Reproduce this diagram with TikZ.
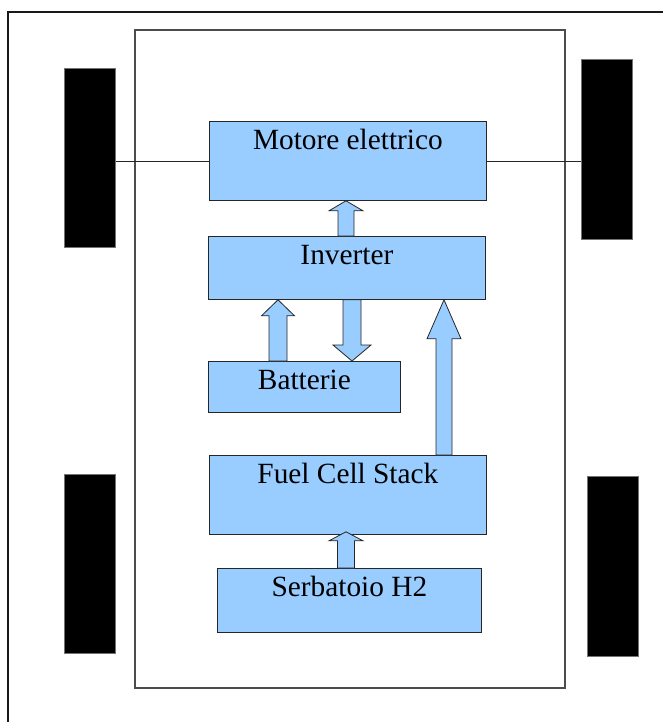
\documentclass[tikz,border=0pt]{standalone}
\usepackage{fontspec}
\setmainfont{Liberation Serif}
\usetikzlibrary{calc}

\definecolor{boxblue}{RGB}{153,204,255}

\tikzset{
  unit/.style={draw=black!85, fill=boxblue, line width=0.6pt, anchor=north west,
    inner xsep=0pt, inner ysep=0pt, text height=21pt, font=\fontsize{22}{26}\selectfont},
  wheel/.style={draw=black!55, fill=black, anchor=north west, inner sep=0pt,
    minimum width=38.25pt, line width=0.4pt},
  fatarr/.style={draw=black!85, fill=boxblue, line width=0.6pt},
}

% tail, tip, shaft half width, head half width, head length
\newcommand{\fatarrow}[5]{%
  \draw[fatarr] (#2) -- ($(#2)+(#4,#5)$) -- ($(#2)+(#3,#5)$) -- ($(#1)+(#3,0)$)
    -- ($(#1)+(-#3,0)$) -- ($(#2)+(-#3,#5)$) -- ($(#2)+(-#4,#5)$) -- cycle;}

\begin{document}
\begin{tikzpicture}[x=0.75pt,y=0.75pt,yscale=-1,xscale=1]
\useasboundingbox (0,0) rectangle (663,722);

%Frame
\draw [line width=1pt, color=black!90]  (8,722) -- (8,12) -- (663,12) ;
%Car body
\draw [line width=0.8pt, color=black!70]  (135,30) rectangle (565,688) ;

%Wheels
\node [wheel, minimum height=134.25pt] (wheelfl) at (64,68) {};
\node [wheel, minimum height=135pt] (wheelfr) at (581,59) {};
\node [wheel, minimum height=134.25pt] (wheelrl) at (64,474) {};
\node [wheel, minimum height=135pt] (wheelrr) at (587,476) {};

%Blocks
\node [unit, minimum width=207.75pt, text depth=38.25pt] (motore) at (209,121) {Motore elettrico};
\node [unit, minimum width=207.75pt, text depth=26.25pt] (inverter) at (208,236) {Inverter};
\node [unit, minimum width=144pt, text depth=17.25pt] (batterie) at (208,361) {Batterie};
\node [unit, minimum width=207.75pt, text depth=38.25pt] (fuelcell) at (209,455) {Fuel Cell Stack};
\node [unit, minimum width=198pt, text depth=27pt] (serbatoio) at (217,568) {Serbatoio H2};

%Axle
\draw [line width=0.6pt, color=black!85]  (wheelfl.east |- motore.west) -- (motore.west) ;
\draw [line width=0.6pt, color=black!85]  (motore.east) -- (wheelfr.west |- motore.east) ;

%Block arrows
\coordinate (a1tail) at (346,0 |- inverter.north);
\coordinate (a1tip) at (346,0 |- motore.south);
\fatarrow{a1tail}{a1tip}{8}{17}{10}

\coordinate (a2tail) at (278,0 |- batterie.north);
\coordinate (a2tip) at (278,0 |- inverter.south);
\fatarrow{a2tail}{a2tip}{9}{16.5}{16}

\coordinate (a3tail) at (352,0 |- inverter.south);
\coordinate (a3tip) at (352,0 |- batterie.north);
\fatarrow{a3tail}{a3tip}{9}{19}{-16}

\coordinate (a4tail) at (444,0 |- fuelcell.north);
\coordinate (a4tip) at (444,0 |- inverter.south);
\fatarrow{a4tail}{a4tip}{8}{17}{39}

\coordinate (a5tail) at (346,0 |- serbatoio.north);
\coordinate (a5tip) at ($(346,0 |- fuelcell.south)+(0,-3)$);
\fatarrow{a5tail}{a5tip}{8.5}{17}{9}

\end{tikzpicture}
\end{document}
